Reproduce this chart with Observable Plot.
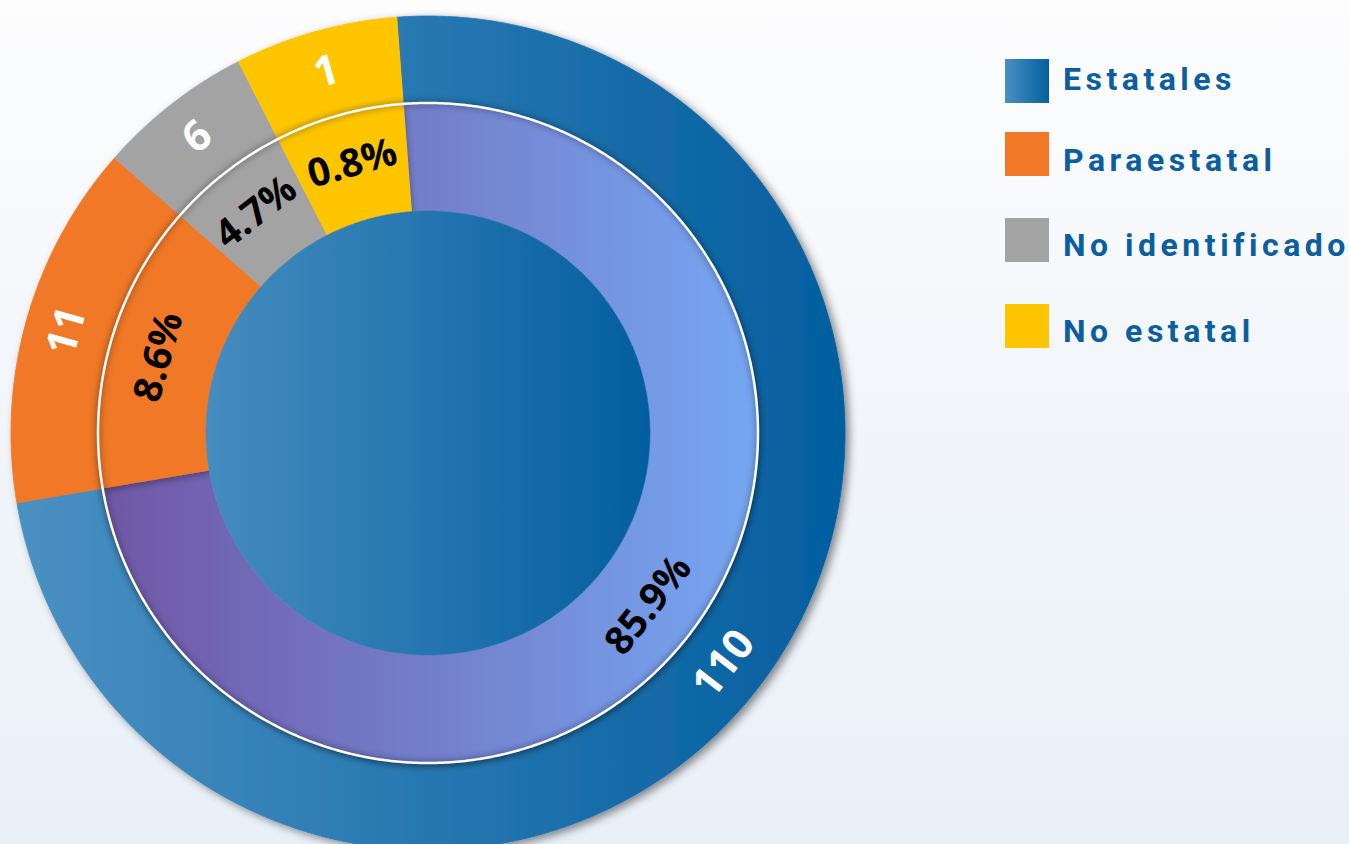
<!DOCTYPE html>
<html>
<head>
<meta charset="utf-8">
<script src="https://cdn.jsdelivr.net/npm/d3@7"></script>
<script src="https://cdn.jsdelivr.net/npm/@observablehq/plot@0.6"></script>
<style>
  html, body { margin: 0; padding: 0; }
  body {
    width: 1349px; height: 844px; overflow: hidden; position: relative;
    background: linear-gradient(180deg, #fdfdfe 0%, #f3f6fa 45%, #e9f0f8 100%);
    font-family: Roboto, "Noto Sans", sans-serif;
  }
  #chart { position: absolute; left: 0; top: 0; }
  #legend { position: absolute; left: 0; top: 0; }
  .sw { position: absolute; left: 1005px; width: 44px; height: 44px; }
  .lbl { position: absolute; left: 1063px; font-size: 32px; line-height: 32px; font-weight: 700;
         letter-spacing: 4.5px; color: #0b5f9f; white-space: nowrap; }
</style>
</head>
<body>
<div id="chart"></div>
<div id="legend"></div>
<script>
// ---- data ----
const categories = ["Estatales", "Paraestatal", "No identificado", "No estatal"];
const counts = [110, 11, 6, 1];
const percents = [85.9, 8.6, 4.7, 0.8];
// angular span (degrees) each slice occupies in the picture, clockwise
const arcDegrees = [264.6, 50.9, 21.7, 22.8];
const startDegree = -4.3; // Estatales starts just left of 12 o'clock

// ---- styles ----
const outerColors = ["#2678af", "#f07826", "#a3a3a3", "#ffc600"];
const legendSwatches = ["linear-gradient(90deg,#4a90c2,#03609f)", "#f07826", "#a3a3a3", "#ffc600"];
const midMainColor = "#7480cc", diskColor = "#2577ae";
const rOuter = 1, rMid = 0.7914, rInner = 0.5324;
const rOuterLabel = 0.9, rMidLabel = 0.671;

const rad = a => a * Math.PI / 180;
const pt = (a, r) => ({x: r * Math.sin(rad(a)), y: r * Math.cos(rad(a))});

let acc = startDegree;
const slices = categories.map((cat, i) => {
  const a0 = acc, a1 = acc + arcDegrees[i];
  acc = a1;
  return {cat, i, a0, a1, mid: (a0 + a1) / 2};
});

function sector(s, r0, r1, ring) {
  const pts = [];
  const n = Math.max(2, Math.ceil((s.a1 - s.a0) / 0.5));
  for (let k = 0; k <= n; k++) pts.push({...pt(s.a0 + (s.a1 - s.a0) * k / n, r1), cat: s.cat, key: ring + s.cat});
  for (let k = n; k >= 0; k--) pts.push({...pt(s.a0 + (s.a1 - s.a0) * k / n, r0), cat: s.cat, key: ring + s.cat});
  return pts;
}
function circle(r, key) {
  return d3.range(0, 721).map(k => ({...pt(k / 2, r), key}));
}

const outerPts = slices.flatMap(s => sector(s, rMid - 0.01, rOuter, "o"));
const midPts = slices.filter(s => s.i > 0).flatMap(s => sector(s, rInner, rMid, "m"));
const midMainPts = sector(slices[0], rInner, rMid, "m");
const diskPts = circle(rInner, "disk");
const ringLine = circle(rMid, "ring");

function labelRot(a) {
  let t = ((a % 360) + 360) % 360;
  if (t > 180) t -= 360;
  return (t > 90 || t < -90) ? t - 180 : t;
}
const outerLabels = slices.map(s => ({...pt(s.mid, rOuterLabel), text: String(counts[s.i]), rot: labelRot(s.mid)}));
const midLabels = slices.map(s => ({...pt(s.mid, rMidLabel), text: percents[s.i].toFixed(1) + "%", rot: labelRot(s.mid)}));

const cx = 427.5, cy = 432.5, R = 417;
const marks = [
  Plot.line(outerPts, {x: "x", y: "y", z: "key", fill: "cat", stroke: "cat", strokeWidth: 0.8}),
  Plot.line(midMainPts, {x: "x", y: "y", z: "key", fill: midMainColor, stroke: midMainColor, strokeWidth: 0.8}),
  Plot.line(midPts, {x: "x", y: "y", z: "key", fill: "cat", stroke: "cat", strokeWidth: 0.8}),
  Plot.line(ringLine, {x: "x", y: "y", stroke: "black", strokeOpacity: 0.25, strokeWidth: 6}),
  Plot.line(ringLine, {x: "x", y: "y", stroke: "white", strokeWidth: 2.5}),
  Plot.line(diskPts, {x: "x", y: "y", fill: diskColor, stroke: diskColor, strokeWidth: 0.5}),
  Plot.text(outerLabels, {x: "x", y: "y", text: "text", rotate: "rot", fill: "white", fontSize: 42, fontWeight: 700, fontFamily: "Open Sans, Noto Sans, sans-serif"}),
  Plot.text(midLabels, {x: "x", y: "y", text: "text", rotate: "rot", fill: "black", fontSize: 39, fontWeight: 700, fontFamily: "Open Sans, Noto Sans, sans-serif"})
];
const plot = Plot.plot({
  width: 1349, height: 844, margin: 0,
  x: {domain: [-1, 1], range: [cx - R, cx + R], axis: null},
  y: {domain: [-1, 1], range: [cy + R, cy - R], axis: null},
  color: {domain: categories, range: outerColors},
  marks
});
plot.style.background = "transparent";
plot.style.overflow = "visible";

// gradients & shadows (decoration applied after rendering)
const svg = d3.select(plot);
const defs = svg.insert("defs", ":first-child");
function grad(id, c0, c1) {
  const g = defs.append("linearGradient").attr("id", id).attr("x1", 0).attr("x2", 1).attr("y1", 0).attr("y2", 0);
  g.append("stop").attr("offset", 0).attr("stop-color", c0);
  g.append("stop").attr("offset", 1).attr("stop-color", c1);
}
grad("gEstOuter", "#4a90c2", "#035e9f");
grad("gEstMid", "#7057a5", "#76a7f2");
grad("gDisk", "#458cbf", "#035e9f");
function shadow(id, dx, dy, sd, op) {
  defs.append("filter").attr("id", id).attr("x", "-10%").attr("y", "-10%").attr("width", "125%").attr("height", "125%")
    .append("feDropShadow").attr("dx", dx).attr("dy", dy).attr("stdDeviation", sd)
    .attr("flood-color", "#000").attr("flood-opacity", op);
}
shadow("shOuter", 4, 3, 4, 0.45);
shadow("shMid", 1, 3, 3, 0.3);
defs.append("filter").attr("id", "blur").attr("x", "-10%").attr("y", "-10%").attr("width", "120%").attr("height", "120%")
  .append("feGaussianBlur").attr("stdDeviation", 3);

const groups = Array.from(plot.children).filter(el => el.tagName.toLowerCase() === "g");
if (groups.length === marks.length) {
  const [gOuter, gMidMain, gMid, gShade, , gDisk] = groups.map(g => d3.select(g));
  gOuter.attr("filter", "url(#shOuter)");
  gOuter.selectAll("path").filter(function () { return this.getAttribute("fill") === outerColors[0]; })
    .attr("fill", "url(#gEstOuter) " + outerColors[0]).attr("stroke", "url(#gEstOuter) " + outerColors[0]);
  gMidMain.attr("fill", "url(#gEstMid) " + midMainColor).attr("stroke", "url(#gEstMid) " + midMainColor).attr("filter", "url(#shMid)");
  gMid.attr("filter", "url(#shMid)");
  gShade.attr("filter", "url(#blur)");
  gDisk.attr("fill", "url(#gDisk) " + diskColor).attr("stroke", "url(#gDisk) " + diskColor);
}

document.getElementById("chart").appendChild(plot);

// legend
const legendTops = [59, 132, 218, 304];
const textTops = [63, 144, 229, 315];
const legend = d3.select("#legend");
categories.forEach((c, i) => {
  legend.append("div").attr("class", "sw").style("top", legendTops[i] + "px").style("background", legendSwatches[i]);
  legend.append("div").attr("class", "lbl").style("top", textTops[i] + "px").text(c);
});
</script>
</body>
</html>
